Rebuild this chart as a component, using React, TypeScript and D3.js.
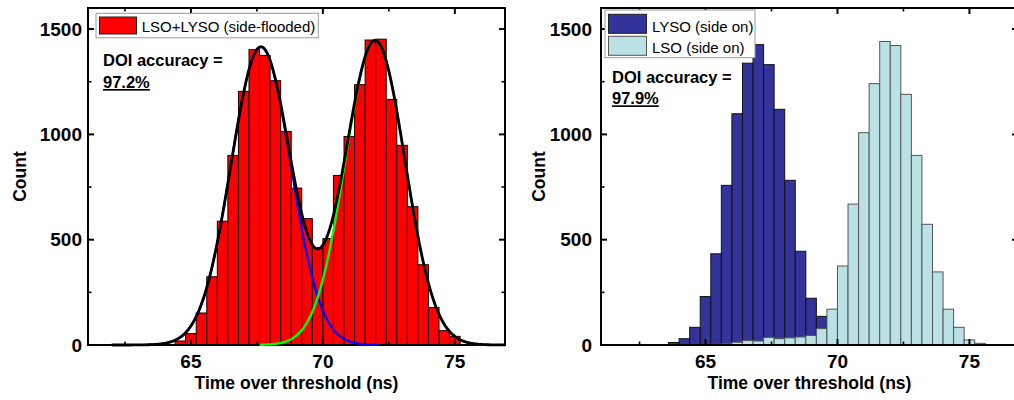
import React from 'react';
import * as d3 from 'd3';

// ---------- data ----------
const BIN_WIDTH = 0.4;

// Left panel: LSO+LYSO (side-flooded)
const leftBinStarts = [64.4, 64.8, 65.2, 65.6, 66.0, 66.4, 66.8, 67.2, 67.6, 68.0, 68.4, 68.8, 69.2, 69.6, 70.0, 70.4, 70.8, 71.2, 71.6, 72.0, 72.4, 72.8, 73.2, 73.6, 74.0, 74.4, 74.8];
const leftCounts = [19, 54, 152, 324, 588, 900, 1204, 1402, 1375, 1255, 1014, 745, 600, 462, 505, 805, 990, 1236, 1448, 1452, 1166, 948, 657, 381, 178, 68, 41];

// Right panel: LYSO (side on)
const lysoBinStarts = [63.6, 64.0, 64.4, 64.8, 65.2, 65.6, 66.0, 66.4, 66.8, 67.2, 67.6, 68.0, 68.4, 68.8, 69.2, 69.6, 70.0, 70.4];
const lysoCounts = [12, 30, 84, 230, 433, 758, 1098, 1338, 1426, 1331, 1119, 782, 445, 222, 136, 60, 22, 6];

// Right panel: LSO (side on)
const lsoBinStarts = [65.2, 65.6, 66.0, 66.4, 66.8, 67.2, 67.6, 68.0, 68.4, 68.8, 69.2, 69.6, 70.0, 70.4, 70.8, 71.2, 71.6, 72.0, 72.4, 72.8, 73.2, 73.6, 74.0, 74.4, 74.8, 75.2];
const lsoCounts = [3, 6, 13, 21, 19, 36, 30, 34, 38, 45, 78, 170, 375, 669, 1008, 1241, 1441, 1422, 1190, 900, 573, 347, 170, 84, 24, 8];

// Gaussian fit parameters (peak 1 = blue, peak 2 = green, sum = black)
const fitAmplitude = [1415, 1445];
const fitCenter = [67.65, 71.98];
const fitSigma = [1.13, 1.13];
const fitRangeStart = [63.2, 67.6];
const fitRangeEnd = [72.1, 76.4];

const xMajorTicks = [65, 70, 75];
const xMinorTicks = [62.5, 67.5, 72.5];
const yMajorTicks = [0, 500, 1000, 1500];
const yMinorTicks = [250, 750, 1250];

const leftLegend = 'LSO+LYSO (side-flooded)';
const rightLegend = ['LYSO (side on)', 'LSO (side on)'];
const accuracyLabel = 'DOI accuracy =';
const accuracyValues = ['97.2%', '97.9%'];
const xTitle = 'Time over threshold (ns)';
const yTitle = 'Count';

// ---------- style ----------
const FONT = "'Liberation Sans', Arial, Helvetica, sans-serif";
const RED = '#ff0000';
const NAVY = '#333399';
const CYAN = '#bae1e4';

const TOP = 8;
const BOTTOM = 345;

const yScale = d3.scaleLinear().domain([0, 1600]).range([BOTTOM, TOP]);

function gauss(i: number, x: number) {
  const d = x - fitCenter[i];
  return fitAmplitude[i] * Math.exp(-(d * d) / (2 * fitSigma[i] * fitSigma[i]));
}

function Frame({ x, labelGap, titleX }: { x: d3.ScaleLinear<number, number>; labelGap: number; titleX: number }) {
  const [L, R] = x.range();
  const majorLen = 6;
  const minorLen = 3.5;
  const tickEls: React.ReactNode[] = [];
  xMajorTicks.forEach((t, i) => {
    const px = x(t);
    tickEls.push(<line key={'xb' + i} x1={px} x2={px} y1={BOTTOM} y2={BOTTOM - majorLen} stroke="#000" strokeWidth={2} />);
    tickEls.push(<line key={'xt' + i} x1={px} x2={px} y1={TOP} y2={TOP + majorLen} stroke="#000" strokeWidth={2} />);
  });
  xMinorTicks.forEach((t, i) => {
    const px = x(t);
    tickEls.push(<line key={'xbm' + i} x1={px} x2={px} y1={BOTTOM} y2={BOTTOM - minorLen} stroke="#000" strokeWidth={1.6} />);
    tickEls.push(<line key={'xtm' + i} x1={px} x2={px} y1={TOP} y2={TOP + minorLen} stroke="#000" strokeWidth={1.6} />);
  });
  yMajorTicks.forEach((t, i) => {
    const py = yScale(t);
    tickEls.push(<line key={'yl' + i} x1={L} x2={L + majorLen} y1={py} y2={py} stroke="#000" strokeWidth={2} />);
    tickEls.push(<line key={'yr' + i} x1={R} x2={R - majorLen} y1={py} y2={py} stroke="#000" strokeWidth={2} />);
  });
  yMinorTicks.forEach((t, i) => {
    const py = yScale(t);
    tickEls.push(<line key={'ylm' + i} x1={L} x2={L + minorLen} y1={py} y2={py} stroke="#000" strokeWidth={1.6} />);
    tickEls.push(<line key={'yrm' + i} x1={R} x2={R - minorLen} y1={py} y2={py} stroke="#000" strokeWidth={1.6} />);
  });
  const midY = (TOP + BOTTOM) / 2;
  return (
    <g>
      <rect x={L} y={TOP} width={R - L} height={BOTTOM - TOP} fill="none" stroke="#000" strokeWidth={2} />
      {tickEls}
      {xMajorTicks.map((t, i) => (
        <text key={'xl' + i} x={x(t)} y={BOTTOM + 23} textAnchor="middle" fontFamily={FONT} fontWeight="bold" fontSize={19}>
          {t}
        </text>
      ))}
      {yMajorTicks.map((t, i) => (
        <text key={'yl' + i} x={L - labelGap} y={yScale(t) + 6.8} textAnchor="end" fontFamily={FONT} fontWeight="bold" fontSize={19}>
          {t}
        </text>
      ))}
      <text x={(L + R) / 2} y={389} textAnchor="middle" fontFamily={FONT} fontWeight="bold" fontSize={17.5}>
        {xTitle}
      </text>
      <text transform={`translate(${titleX},${midY}) rotate(-90)`} textAnchor="middle" fontFamily={FONT} fontWeight="bold" fontSize={17.5}>
        {yTitle}
      </text>
    </g>
  );
}

function Bars({ x, starts, counts, fill, stroke }: { x: d3.ScaleLinear<number, number>; starts: number[]; counts: number[]; fill: string; stroke: string }) {
  return (
    <g>
      {starts.map((s, i) => {
        const x0 = x(s);
        const x1 = x(s + BIN_WIDTH);
        const y0 = yScale(counts[i]);
        return <rect key={i} x={x0} y={y0} width={x1 - x0} height={BOTTOM - y0} fill={fill} stroke={stroke} strokeWidth={1} />;
      })}
    </g>
  );
}

export default function App() {
  const xL = d3.scaleLinear().domain([61.1, 76.9]).range([88, 505]);
  const xR = d3.scaleLinear().domain([61.04, 76.84]).range([601, 1018]);

  const line = d3
    .line<[number, number]>()
    .x((d) => xL(d[0]))
    .y((d) => yScale(d[1]));

  const peakPath = (i: number) => line(d3.range(fitRangeStart[i], fitRangeEnd[i] + 0.001, 0.02).map((t) => [t, gauss(i, t)] as [number, number])) || '';
  const sumPath = line(d3.range(62.0, 76.9, 0.02).map((t) => [t, gauss(0, t) + gauss(1, t)] as [number, number])) || '';

  return (
    <svg width={1014} height={400} style={{ position: 'absolute', left: 0, top: 0, background: '#fff' }}>
      <rect x={0} y={0} width={1014} height={400} fill="#fff" />
      {/* ---------- left panel ---------- */}
      <Bars x={xL} starts={leftBinStarts} counts={leftCounts} fill={RED} stroke="#1a0000" />
      <Frame x={xL} labelGap={6} titleX={25.5} />
      <path d={peakPath(0)} fill="none" stroke="#0000ff" strokeWidth={2.2} />
      <path d={peakPath(1)} fill="none" stroke="#00ff00" strokeWidth={2.4} />
      <path d={sumPath} fill="none" stroke="#000" strokeWidth={2.8} />
      <rect x={96} y={13.3} width={222.3} height={24.5} fill="#fff" stroke="#9a9a9a" strokeWidth={1} />
      <rect x={99.5} y={17} width={37} height={17} fill={RED} stroke="#222" strokeWidth={1} />
      <text x={141.7} y={32} fontFamily={FONT} fontSize={15}>
        {leftLegend}
      </text>
      <text x={103} y={66} fontFamily={FONT} fontWeight="bold" fontSize={16.5}>
        {accuracyLabel}
      </text>
      <text x={103} y={88} fontFamily={FONT} fontWeight="bold" fontSize={16.5} style={{ textDecoration: 'underline' }}>
        {accuracyValues[0]}
      </text>

      {/* ---------- right panel ---------- */}
      <Bars x={xR} starts={lysoBinStarts} counts={lysoCounts} fill={NAVY} stroke="#111" />
      <Bars x={xR} starts={lsoBinStarts} counts={lsoCounts} fill={CYAN} stroke="#555" />
      <Frame x={xR} labelGap={9} titleX={545} />
      <rect x={605} y={10} width={150} height={47.7} fill="#fff" stroke="#9a9a9a" strokeWidth={1} />
      <rect x={608.5} y={14.3} width={38} height={19} fill={NAVY} stroke="#222" strokeWidth={1} />
      <rect x={608.5} y={36.3} width={38} height={19} fill={CYAN} stroke="#555" strokeWidth={1} />
      <text x={652} y={31.5} fontFamily={FONT} fontSize={15}>
        {rightLegend[0]}
      </text>
      <text x={652} y={53} fontFamily={FONT} fontSize={15}>
        {rightLegend[1]}
      </text>
      <text x={612} y={83.3} fontFamily={FONT} fontWeight="bold" fontSize={16.5}>
        {accuracyLabel}
      </text>
      <text x={612} y={104.3} fontFamily={FONT} fontWeight="bold" fontSize={16.5} style={{ textDecoration: 'underline' }}>
        {accuracyValues[1]}
      </text>
    </svg>
  );
}
